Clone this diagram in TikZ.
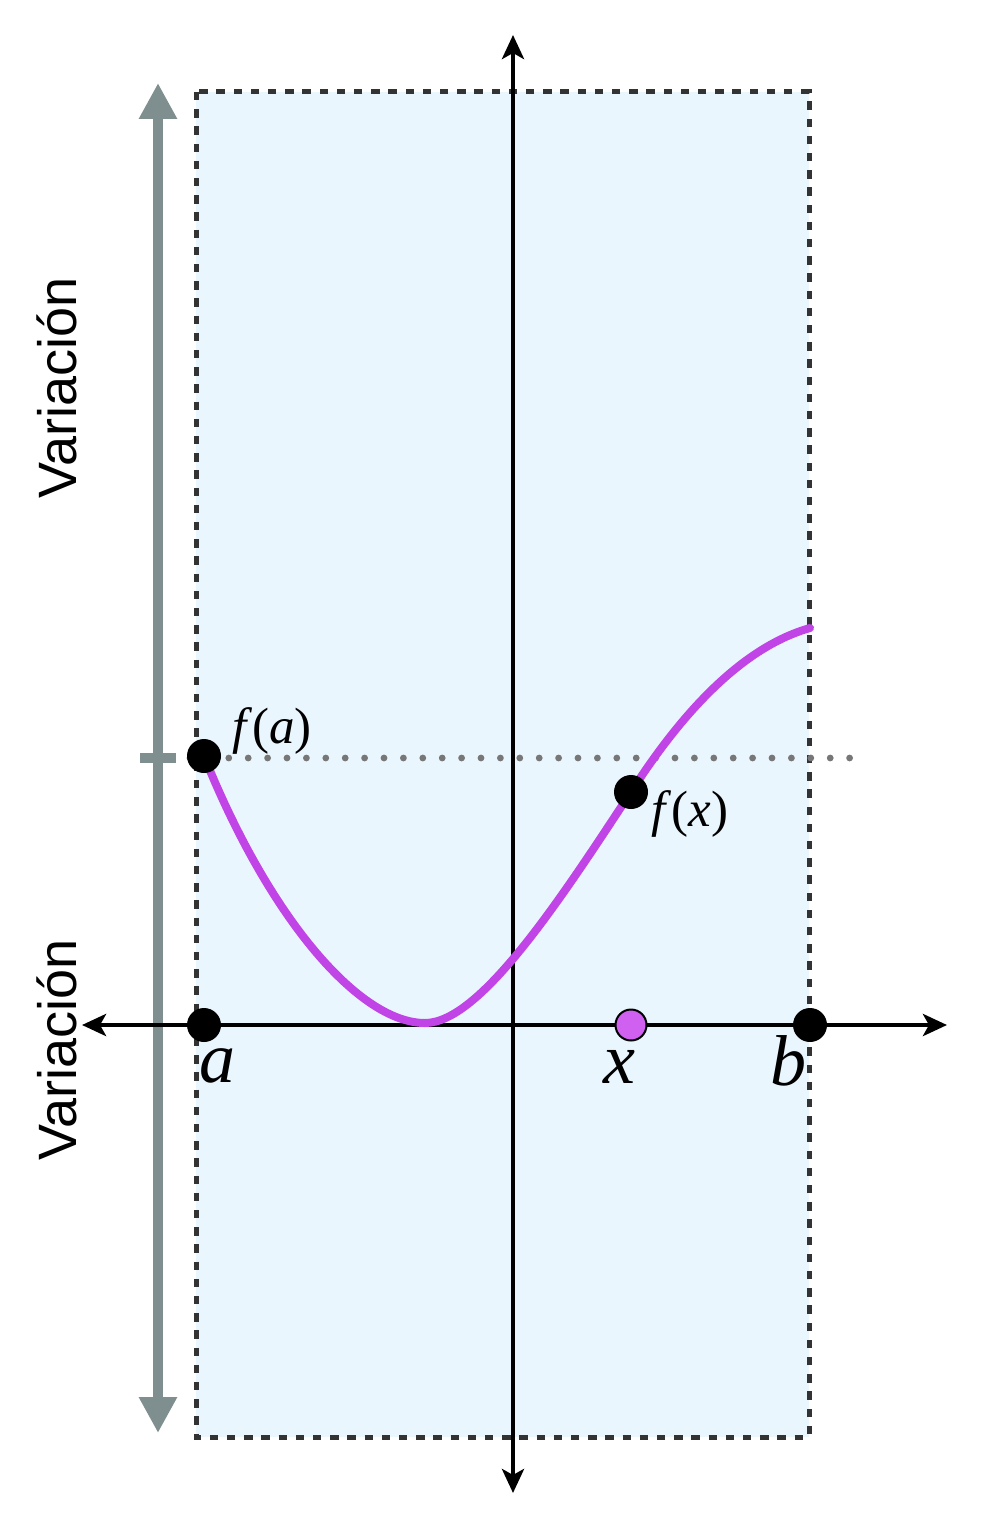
\documentclass[tikz,border=0pt]{standalone}
\usepackage{fontspec}
\setmainfont{Liberation Serif}
\newfontfamily\labelsans{Liberation Sans}
\usetikzlibrary{arrows.meta}
\definecolor{boxfill}{HTML}{EAF6FD}
\definecolor{boxedge}{HTML}{333333}
\definecolor{vargray}{HTML}{7F8F8F}
\definecolor{curvecol}{HTML}{C044E6}
\definecolor{xdotcol}{HTML}{D060F0}
\definecolor{dotgray}{HTML}{777777}
\tikzset{
  axisline/.style={line width=2.4pt,{Stealth[length=12pt,width=11pt,inset=3pt]}-{Stealth[length=12pt,width=11pt,inset=3pt]}},
  vararrow/.style={vargray,line width=5pt,{Triangle[length=18pt,width=18pt]}-{Triangle[length=18pt,width=18pt]}},
  dotblack/.style={circle,fill=black,minimum size=17pt,inner sep=0pt},
  dotx/.style={circle,fill=xdotcol,draw=black,line width=1pt,minimum size=15.5pt,inner sep=0pt},
  biglbl/.style={inner sep=0pt,font=\fontsize{36pt}{40pt}\selectfont},
  flbl/.style={inner sep=0pt,font=\fontsize{25.5pt}{28pt}\selectfont},
  vartext/.style={inner sep=0pt,rotate=90,font=\labelsans\fontsize{27pt}{30pt}\selectfont}
}
\begin{document}
\begin{tikzpicture}[x=0.5pt,y=-0.5pt]
\useasboundingbox (0,0) rectangle (980,1536);
% shaded interval
\fill[boxfill] (196,92) rectangle (809,1437);
\draw[boxedge,line width=2.5pt,dash pattern=on 4.2pt off 4.4pt] (196,92) rectangle (809,1437);
% variation arrow
\coordinate (vtop) at (158,83);
\coordinate (vbot) at (158,1433);
\draw[vararrow] (vtop) -- (vbot);
\coordinate (tickL) at (140,758);
\coordinate (tickR) at (176,758);
\draw[vargray,line width=5pt] (tickL) -- (tickR);
% dotted level line
\coordinate (dotL) at (190,758);
\coordinate (dotR) at (852,758);
\draw[dotgray,line width=3.4pt,line cap=round,dash pattern=on 0pt off 9.7pt] (dotL) -- (dotR);
% axes
\coordinate (xL) at (82,1025);
\coordinate (xR) at (947,1025);
\coordinate (yT) at (513,35);
\coordinate (yB) at (513,1493);
\draw[axisline] (xL) -- (xR);
\draw[axisline] (yB) -- (yT);
% curve
\coordinate (fa) at (204,756);
\coordinate (mn) at (425,1023);
\coordinate (fx) at (631,792);
\coordinate (fb) at (810,628);
\draw[curvecol,line width=4pt,line cap=round] (fa) .. controls (270,920) and (360,1023) .. (mn) .. controls (480,1023) and (560,900) .. (fx) .. controls (690,700) and (750,645) .. (fb);
% points
\node[dotblack] (pfa) at (fa) {};
\node[dotblack] (pfx) at (fx) {};
\node[dotblack] (pa) at (204,1025) {};
\node[dotblack] (pb) at (810,1025) {};
\node[dotx] (px) at (631,1025) {};
% labels
\node[biglbl] (la) at (217,1066) {\textit{a}};
\node[biglbl] (lx) at (619,1067) {\textit{x}};
\node[biglbl] (lb) at (788,1061) {\textit{b}};
\node[flbl] (lfa) at (272,731) {\textit{f}(\textit{a})};
\node[flbl] (lfx) at (690,814) {\textit{f}(\textit{x})};
\node[vartext] (v1) at (57,388) {Variación};
\node[vartext] (v2) at (57,1050) {Variación};
\end{tikzpicture}
\end{document}
